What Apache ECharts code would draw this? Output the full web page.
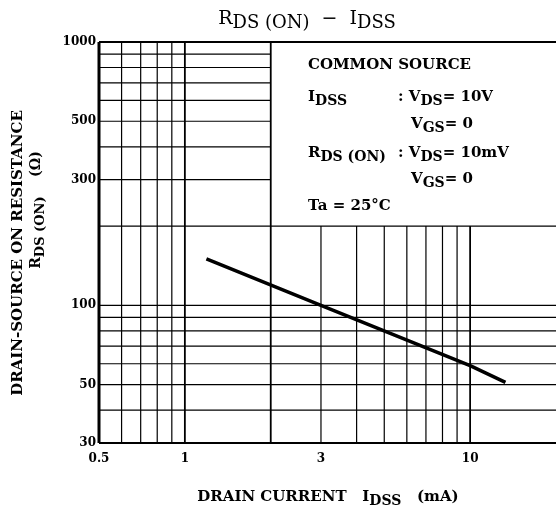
<!DOCTYPE html>
<html>
<head>
<meta charset="utf-8">
<script src="https://cdn.jsdelivr.net/npm/echarts@6/dist/echarts.min.js"></script>
<style>
  html, body { margin: 0; padding: 0; background: #fff; }
  #chart { width: 556px; height: 508px; }
</style>
</head>
<body>
<div id="chart"></div>
<script>
// axis labels
const xTicks = [0.5, 1, 3, 10];
const yTicks = [30, 50, 100, 300, 500, 1000];
// log grid lines
const xGrid = [0.5, 0.6, 0.7, 0.8, 0.9, 1, 2, 3, 4, 5, 6, 7, 8, 9, 10];
const yGrid = [30, 40, 50, 60, 70, 80, 90, 100, 200, 300, 400, 500, 600, 700, 800, 900, 1000];
// R_DS(ON) vs I_DSS curve
const currentMA = [1.19, 3, 10, 13.3];
const resistance = [150, 100, 59, 51];
// the condition box sits above/right of this corner, grid stops there
const boxCorner = [2, 200];

const xMin = 0.5, xMax = 20, yMin = 30, yMax = 1000;
const serif = '"DejaVu Serif", "Liberation Serif", serif';

const chart = echarts.init(document.getElementById('chart'));

// vertical grid lines
function vLine(params, api) {
  const x = api.value(0);
  const a = api.coord([x, yMin]);
  const b = api.coord([x, api.value(1)]);
  let w = 1.2;
  if (x === xMin) w = 3;
  else if (x === 1 || x === 10 || x === 2) w = 1.8;
  return {
    type: 'line',
    shape: { x1: a[0], y1: a[1], x2: b[0], y2: b[1] },
    style: { stroke: '#000', lineWidth: w }
  };
}

// horizontal grid lines
function hLine(params, api) {
  const y = api.value(1);
  const a = api.coord([xMin, y]);
  const b = api.coord([api.value(0), y]);
  let w = 1.2;
  if (y === yMax) w = 2.2;
  else if (y === yMin) w = 1.8;
  return {
    type: 'line',
    shape: { x1: a[0], y1: a[1], x2: b[0], y2: b[1] },
    style: { stroke: '#000', lineWidth: w }
  };
}

const vData = xGrid.map(x => [x, x <= boxCorner[0] ? yMax : boxCorner[1]]);
const hData = yGrid.map(y => [(y <= boxCorner[1] || y === yMax) ? xMax : boxCorner[0], y]);

// rich text styles used for subscripts
const richSub = (size, weight) => ({
  m: { fontFamily: serif, fontSize: size, fontWeight: weight, lineHeight: size + 8, fill: '#000' },
  s: { fontFamily: serif, fontSize: size - 1, fontWeight: weight, lineHeight: size, verticalAlign: 'bottom', fill: '#000' }
});

function label(x, y, text, size, weight, extra) {
  return {
    type: 'text',
    x: x,
    y: y,
    silent: true,
    style: Object.assign({
      text: text,
      fontFamily: serif,
      fontSize: size,
      fontWeight: weight,
      fill: '#000',
      textVerticalAlign: 'middle',
      rich: richSub(size, weight)
    }, extra || {})
  };
}

const option = {
  animation: false,
  backgroundColor: '#fff',
  grid: { left: 99, right: -1, top: 42, bottom: 65 },
  xAxis: {
    type: 'log',
    logBase: 10,
    min: xMin,
    max: xMax,
    axisLine: { show: false },
    axisTick: { show: false },
    splitLine: { show: false },
    axisLabel: {
      customValues: xTicks,
      margin: 10,
      fontFamily: serif,
      fontSize: 12,
      fontWeight: 'bold',
      color: '#000',
      formatter: v => String(v)
    }
  },
  yAxis: {
    type: 'log',
    logBase: 10,
    min: yMin,
    max: yMax,
    axisLine: { show: false },
    axisTick: { show: false },
    splitLine: { show: false },
    axisLabel: {
      customValues: yTicks,
      margin: 3,
      fontFamily: serif,
      fontSize: 12,
      fontWeight: 'bold',
      color: '#000',
      formatter: v => String(v)
    }
  },
  series: [
    {
      type: 'custom',
      renderItem: vLine,
      data: vData,
      silent: true,
      clip: false,
      z: 1
    },
    {
      type: 'custom',
      renderItem: hLine,
      data: hData,
      silent: true,
      clip: false,
      z: 1
    },
    {
      type: 'line',
      data: currentMA.map((x, i) => [x, resistance[i]]),
      symbol: 'none',
      lineStyle: { color: '#000', width: 3.5 },
      z: 5
    }
  ],
  graphic: [
    // title
    label(307, 19, '{m|R}{s|DS (ON)}{m|  −  I}{s|DSS}', 19, 'normal', { textAlign: 'center' }),
    // condition box
    label(308, 65, 'COMMON SOURCE', 15, 'bold'),
    label(308, 97, '{m|I}{s|DSS}', 15, 'bold'),
    label(398, 97, '{m|: V}{s|DS}{m|= 10V}', 15, 'bold'),
    label(411, 124, '{m|V}{s|GS}{m|= 0}', 15, 'bold'),
    label(308, 153, '{m|R}{s|DS (ON)}', 15, 'bold'),
    label(398, 153, '{m|: V}{s|DS}{m|= 10mV}', 15, 'bold'),
    label(411, 179, '{m|V}{s|GS}{m|= 0}', 15, 'bold'),
    label(308, 206, 'Ta = 25°C', 15, 'bold'),
    // axis names
    label(328, 497, '{m|DRAIN CURRENT   I}{s|DSS}{m|   (mA)}', 15, 'bold', { textAlign: 'center' }),
    Object.assign(label(18, 253, 'DRAIN-SOURCE ON RESISTANCE', 15, 'bold', { textAlign: 'center' }), { rotation: Math.PI / 2 }),
    Object.assign(label(36, 210, '{m|R}{s|DS (ON)}{m|    (Ω)}', 14, 'bold', { textAlign: 'center' }), { rotation: Math.PI / 2 })
  ]
};

chart.setOption(option);
</script>
</body>
</html>
